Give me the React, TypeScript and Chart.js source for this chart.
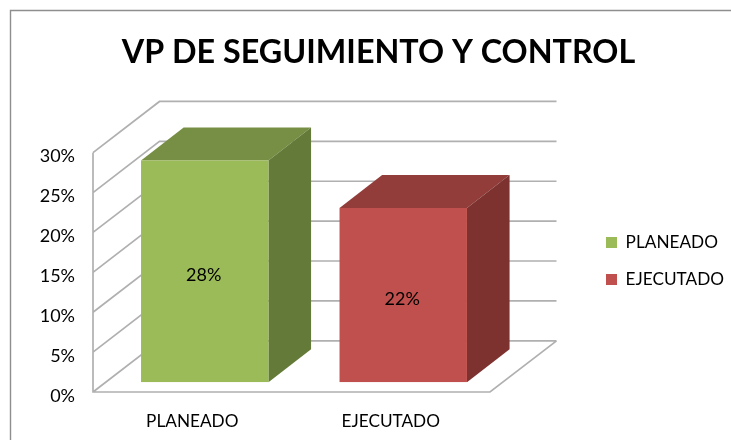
import React, { useEffect, useRef } from "react";
import { Chart, registerables } from "chart.js";

Chart.register(...registerables);

const TITLE = "VP DE SEGUIMIENTO Y CONTROL";
const categories = ["PLANEADO", "EJECUTADO"];
const values = [0.28, 0.22];
const frontColors = ["#9BBB59", "#C0504D"];
const topColors = ["#778F44", "#933D3B"];
const sideColors = ["#647A38", "#7D3230"];
const FONT = "Lato";

const wall = { dx: 66.5, dy: -51.2, line: "#B0B0B0" };
const bar = { shiftX: 12.5, shiftY: -9.7, depthX: 42.6, depthY: -33, scaleY: 0.993 };

const pct = (v: number) => `${Math.round(v * 100)}%`;

const chart3d = {
  id: "chart3d",
  afterLayout(chart: any) {
    const t = chart.titleBlock;
    t.left = 0;
    t.right = 757;
    const l = chart.legend;
    const pad = l.options.labels.padding;
    l.left = 606 - pad;
    l.right = l.left + 140;
    l.top = 233.8 - pad;
    l.bottom = l.top + 100;
  },
  beforeDraw(chart: any) {
    const { ctx, width, height } = chart;
    ctx.save();
    ctx.fillStyle = "#FFFFFF";
    ctx.fillRect(0, 0, width, height);
    ctx.strokeStyle = "#8E8E8E";
    ctx.lineWidth = 1.4;
    ctx.beginPath();
    ctx.moveTo(width, 10.5);
    ctx.lineTo(10.5, 10.5);
    ctx.lineTo(10.5, height);
    ctx.stroke();
    ctx.restore();
  },
  beforeDatasetsDraw(chart: any) {
    const { ctx, scales } = chart;
    const x = scales.x;
    const y = scales.y;
    ctx.save();
    ctx.strokeStyle = wall.line;
    ctx.lineWidth = 1.7;
    ctx.beginPath();
    for (const tick of y.ticks) {
      const p = y.getPixelForValue(tick.value);
      ctx.moveTo(x.left, p);
      ctx.lineTo(x.left + wall.dx, p + wall.dy);
      ctx.lineTo(x.right + wall.dx, p + wall.dy);
    }
    const bottom = y.getPixelForValue(0);
    ctx.moveTo(x.left, y.getPixelForValue(0.3));
    ctx.lineTo(x.left, bottom);
    ctx.lineTo(x.right, bottom);
    ctx.lineTo(x.right + wall.dx, bottom + wall.dy);
    ctx.stroke();

    const meta = chart.getDatasetMeta(0);
    meta.data.forEach((el: any, i: number) => {
      const l = el.x - el.width / 2 + bar.shiftX;
      const r = el.x + el.width / 2 + bar.shiftX;
      const b = el.base + bar.shiftY;
      const t = b - (el.base - el.y) * bar.scaleY;
      ctx.fillStyle = topColors[i];
      ctx.beginPath();
      ctx.moveTo(l, t);
      ctx.lineTo(l + bar.depthX, t + bar.depthY);
      ctx.lineTo(r + bar.depthX, t + bar.depthY);
      ctx.lineTo(r, t);
      ctx.closePath();
      ctx.fill();
      ctx.fillStyle = sideColors[i];
      ctx.beginPath();
      ctx.moveTo(r, t);
      ctx.lineTo(r + bar.depthX, t + bar.depthY);
      ctx.lineTo(r + bar.depthX, b + bar.depthY);
      ctx.lineTo(r, b);
      ctx.closePath();
      ctx.fill();
    });
    ctx.restore();
  },
  beforeDatasetDraw(chart: any) {
    const { ctx, scales } = chart;
    const base = scales.y.getPixelForValue(0);
    ctx.save();
    ctx.translate(bar.shiftX, base + bar.shiftY);
    ctx.scale(1, bar.scaleY);
    ctx.translate(0, -base);
  },
  afterDatasetDraw(chart: any) {
    chart.ctx.restore();
  },
  afterDatasetsDraw(chart: any) {
    const { ctx } = chart;
    const meta = chart.getDatasetMeta(0);
    ctx.save();
    ctx.fillStyle = "#000000";
    ctx.font = `18px ${FONT}`;
    ctx.textAlign = "center";
    ctx.textBaseline = "middle";
    meta.data.forEach((el: any, i: number) => {
      const b = el.base + bar.shiftY;
      const t = b - (el.base - el.y) * bar.scaleY;
      ctx.fillText(pct(values[i]), el.x + bar.shiftX - 1, (t + b) / 2 + 4);
    });
    ctx.restore();
  },
};

export default function App() {
  const ref = useRef<HTMLCanvasElement>(null);
  useEffect(() => {
    document.body.style.margin = "0";
    const chart = new Chart(ref.current as HTMLCanvasElement, {
      type: "bar",
      data: {
        labels: categories,
        datasets: [
          {
            data: values,
            backgroundColor: frontColors,
            borderWidth: 0,
            barPercentage: 0.642,
            categoryPercentage: 1,
          },
        ],
      },
      options: {
        responsive: false,
        animation: false,
        layout: { padding: { left: 0, right: 241, top: 0, bottom: 0 } },
        scales: {
          x: {
            grid: { display: false },
            border: { display: false },
            ticks: { color: "#000", font: { family: FONT, size: 17.2 }, padding: 11, maxRotation: 0 },
            afterFit(s: any) {
              s.height = 48;
            },
          },
          y: {
            min: 0,
            max: 0.3,
            grid: { display: false },
            border: { display: false },
            ticks: {
              stepSize: 0.05,
              color: "#000",
              font: { family: FONT, size: 18 },
              padding: 10,
              labelOffset: 4,
              callback: (v: any) => pct(Number(v)),
            },
            afterFit(s: any) {
              s.width = 93;
            },
          },
        },
        plugins: {
          tooltip: { enabled: false },
          title: {
            display: true,
            text: TITLE,
            color: "#000",
            font: { family: FONT, size: 32.3, weight: "bold" },
            padding: { top: 33, bottom: 80.9 },
          },
          legend: {
            position: "chartArea",
            align: "start",
            labels: {
              color: "#000",
              font: { family: FONT, size: 17.2 },
              boxWidth: 11,
              boxHeight: 11,
              padding: 20,
              generateLabels: (c: any) =>
                c.data.labels.map((label: string, i: number) => ({
                  text: label,
                  fillStyle: frontColors[i],
                  strokeStyle: frontColors[i],
                  lineWidth: 0,
                  index: i,
                })),
            },
          },
        },
      } as any,
      plugins: [chart3d as any],
    });
    return () => chart.destroy();
  }, []);
  return (
    <canvas
      ref={ref}
      width={731}
      height={440}
      style={{ display: "block", width: 731, height: 440, filter: "blur(0.4px)" }}
    />
  );
}
